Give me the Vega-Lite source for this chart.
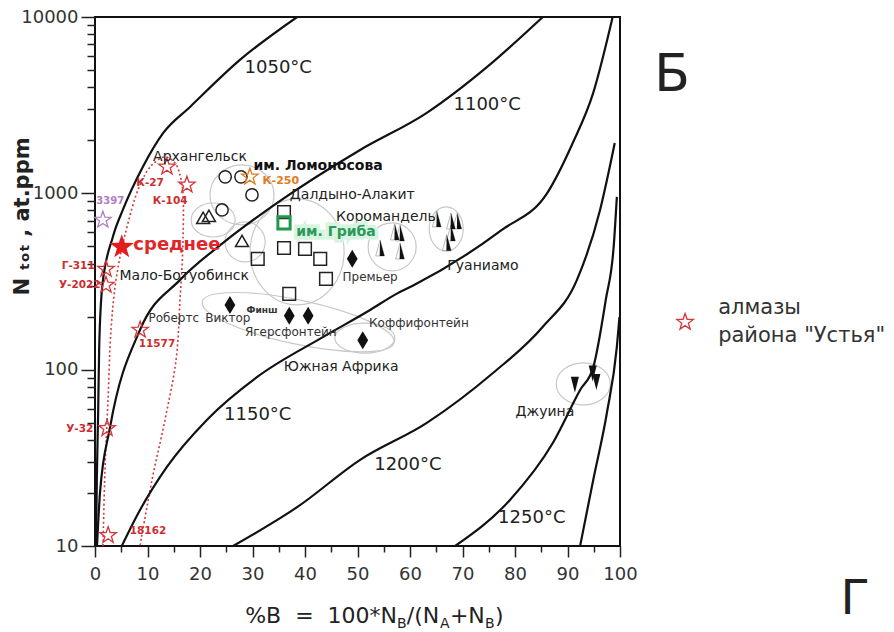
{
"$schema":"https://vega.github.io/schema/vega-lite/v6.json",
"width":525,"height":529,
"autosize":{"type":"none"},
"padding":{"left":95,"top":17,"right":274,"bottom":86},
"background":"white",
"config":{"view":{"stroke":"#111","strokeWidth":2},"text":{"font":"DejaVu Sans"}},
"encoding":{
 "x":{"field":"x","type":"quantitative","scale":{"domain":[0,100],"nice":false,"zero":false},"axis":null},
 "y":{"field":"y","type":"quantitative","scale":{"type":"log","domain":[10,10000],"nice":false},"axis":null}
},
"layer":[
 {"data":{"values":[
   {"e":"E1","x":28.0,"y":979},{"e":"E2","x":22.5,"y":706},{"e":"E3","x":38.5,"y":466},
   {"e":"E4","x":56.6,"y":497},{"e":"E5","x":66.9,"y":628},{"e":"E6","x":38.7,"y":186},
   {"e":"E7","x":51.4,"y":151},{"e":"E8","x":93.0,"y":83},{"e":"E9","x":28.6,"y":530}]},
  "mark":{"type":"point","filled":false,"size":4,"color":"#c8c8c8","strokeWidth":1.2,"opacity":1},
  "encoding":{
   "shape":{"field":"e","type":"nominal","legend":null,"scale":{"domain":["E1","E2","E3","E4","E5","E6","E7","E8","E9"],
     "range":["M-32,0A32,30,0,1,1,32,0A32,30,0,1,1,-32,0Z",
              "M-22,0A22,17,0,1,1,22,0A22,17,0,1,1,-22,0Z",
              "M-47,0A47,53,0,1,1,47,0A47,53,0,1,1,-47,0Z",
              "M-24,0A24,24,0,1,1,24,0A24,24,0,1,1,-24,0Z",
              "M-17,0A17,22,0,1,1,17,0A17,22,0,1,1,-17,0Z",
              "M-95.9,-20.4A98,22,12,1,1,95.9,20.4A98,22,12,1,1,-95.9,-20.4Z",
              "M-30,0A30,15,0,1,1,30,0A30,15,0,1,1,-30,0Z",
              "M-27,0A27,21,0,1,1,27,0A27,21,0,1,1,-27,0Z",
              "M-20,0A20,20,0,1,1,20,0A20,20,0,1,1,-20,0Z"]}}
  }},
 {"data":{"values":[
   {"i":0,"x":1.52,"y":10},{"i":1,"x":1.9,"y":27},{"i":2,"x":2.48,"y":67.3},{"i":3,"x":3.05,"y":168},
   {"i":4,"x":4.0,"y":323},{"i":5,"x":5.71,"y":581},{"i":6,"x":8.57,"y":1117},{"i":7,"x":10.86,"y":1449},
   {"i":8,"x":13.33,"y":1608},{"i":9,"x":15.24,"y":1486},{"i":10,"x":16.57,"y":1117},{"i":11,"x":16.76,"y":545},
   {"i":12,"x":16.19,"y":248},{"i":13,"x":15.43,"y":113},{"i":14,"x":13.33,"y":51.9},{"i":15,"x":10.86,"y":23.7},
   {"i":16,"x":8.57,"y":10}]},
  "mark":{"type":"line","color":"#d23a3a","strokeWidth":1.6,"strokeDash":[2,2.5],"interpolate":"catmull-rom","clip":true},
  "encoding":{"order":{"field":"i","type":"quantitative"}}},
 {"data":{"values":[
   {"c":"1050","i":0,"x":0.2,"y":10},{"c":"1050","i":1,"x":0.35,"y":24},{"c":"1050","i":2,"x":0.6,"y":57},{"c":"1050","i":3,"x":0.8,"y":135},
   {"c":"1050","i":4,"x":1.4,"y":300},{"c":"1050","i":5,"x":3.4,"y":566},{"c":"1050","i":6,"x":5.3,"y":805},{"c":"1050","i":7,"x":9.1,"y":1410},
   {"c":"1050","i":8,"x":13.0,"y":2200},{"c":"1050","i":9,"x":18.1,"y":3090},{"c":"1050","i":10,"x":27.6,"y":5710},{"c":"1050","i":11,"x":38.5,"y":10000},
   {"c":"1100","i":0,"x":0.38,"y":10},{"c":"1100","i":1,"x":0.95,"y":20},{"c":"1100","i":2,"x":2.86,"y":47},{"c":"1100","i":3,"x":8.57,"y":168},
   {"c":"1100","i":4,"x":16.2,"y":323},{"c":"1100","i":5,"x":24.4,"y":524},{"c":"1100","i":6,"x":34.7,"y":883},{"c":"1100","i":7,"x":50.5,"y":1762},
   {"c":"1100","i":8,"x":63.2,"y":2860},{"c":"1100","i":9,"x":74.7,"y":5210},{"c":"1100","i":10,"x":85.3,"y":10000},
   {"c":"1150","i":0,"x":5.1,"y":10},{"c":"1150","i":1,"x":8.57,"y":16},{"c":"1150","i":2,"x":13.7,"y":28.1},{"c":"1150","i":3,"x":21.3,"y":51.9},
   {"c":"1150","i":4,"x":30.9,"y":91},{"c":"1150","i":5,"x":43.4,"y":153},{"c":"1150","i":6,"x":52.4,"y":218},{"c":"1150","i":7,"x":57.5,"y":270},
   {"c":"1150","i":8,"x":60.6,"y":300},{"c":"1150","i":9,"x":77.5,"y":620},{"c":"1150","i":10,"x":86.1,"y":1000},{"c":"1150","i":11,"x":91.0,"y":1930},
   {"c":"1150","i":12,"x":94.9,"y":3715},{"c":"1150","i":13,"x":98.6,"y":10000},
   {"c":"1200","i":0,"x":26.3,"y":10},{"c":"1200","i":1,"x":38.5,"y":16.6},{"c":"1200","i":2,"x":50.5,"y":30.8},{"c":"1200","i":3,"x":63.2,"y":49.9},
   {"c":"1200","i":4,"x":75.8,"y":95.7},{"c":"1200","i":5,"x":85.3,"y":175},{"c":"1200","i":6,"x":91.8,"y":323},{"c":"1200","i":7,"x":96.2,"y":805},
   {"c":"1200","i":8,"x":99.0,"y":1930},
   {"c":"1250","i":0,"x":68.6,"y":10},{"c":"1250","i":1,"x":79.0,"y":18.2},{"c":"1250","i":2,"x":87.2,"y":38.4},{"c":"1250","i":3,"x":92.4,"y":76.7},
   {"c":"1250","i":4,"x":94.9,"y":103},{"c":"1250","i":5,"x":97.3,"y":250},{"c":"1250","i":6,"x":98.8,"y":500},{"c":"1250","i":7,"x":99.4,"y":955},
   {"c":"1300","i":0,"x":92.4,"y":10},{"c":"1300","i":1,"x":94.9,"y":23.7},{"c":"1300","i":2,"x":97.5,"y":56.8},{"c":"1300","i":3,"x":99.4,"y":134.6},
   {"c":"1300","i":4,"x":99.9,"y":199}]},
  "mark":{"type":"line","color":"#111","strokeWidth":2.2,"interpolate":"monotone","clip":true},
  "encoding":{
   "x":{"field":"x","type":"quantitative","scale":{"domain":[0,100],"nice":false,"zero":false},
     "axis":{"orient":"bottom","values":[0,5,10,15,20,25,30,35,40,45,50,55,60,65,70,75,80,85,90,95,100],"title":null,"domain":false,"grid":false,"tickColor":"#222","tickWidth":1.5,"tickSize":{"condition":{"test":"datum.value % 10 === 0","value":11},"value":6},"labelExpr":"datum.value % 10 === 0 ? datum.label : ''","labelFont":"DejaVu Sans","labelFontSize":18,"labelColor":"#333","labelPadding":8,"labelFlush":false,"labelOverlap":false,"labelBound":false}},
   "y":{"field":"y","type":"quantitative","scale":{"type":"log","domain":[10,10000],"nice":false},
     "axis":{"orient":"left","values":[10,20,30,40,50,60,70,80,90,100,200,300,400,500,600,700,800,900,1000,2000,3000,4000,5000,6000,7000,8000,9000,10000],"title":"N ₜₒₜ ,  at.ppm","titleFont":"DejaVu Sans","titleFontWeight":"bold","titleFontSize":21,"titleColor":"#222","titleX":-73,"titleY":199,"titleAngle":-90,"titleAlign":"center","titleBaseline":"middle","domain":false,"grid":false,"tickColor":"#222","tickWidth":1.5,"tickSize":{"condition":{"test":"indexof([10,100,1000,10000], datum.value) >= 0","value":14},"value":8},"labelExpr":"indexof([10,100,1000,10000], datum.value) >= 0 ? format(datum.value, 'd') : ''","labelFont":"DejaVu Sans","labelFontSize":18,"labelColor":"#333","labelPadding":3,"labelOverlap":false,"labelFlush":false,"labelBound":false}},
   "detail":{"field":"c","type":"nominal"},
   "order":{"field":"i","type":"quantitative"}}},
 {"data":{"values":[{"x":24.8,"y":1240},{"x":27.8,"y":1240},{"x":29.9,"y":980},{"x":24.2,"y":805}]},
  "mark":{"type":"point","shape":"circle","size":150,"filled":false,"color":"#222","strokeWidth":1.5,"opacity":1}},
 {"data":{"values":[{"x":20.6,"y":726},{"x":21.7,"y":745},{"x":28.0,"y":537}]},
  "mark":{"type":"point","shape":"triangle-up","size":170,"filled":false,"color":"#222","strokeWidth":1.5,"opacity":1}},
 {"data":{"values":[{"x":36.0,"y":783},{"x":36.0,"y":490},{"x":40.0,"y":484},{"x":42.9,"y":425},{"x":31.0,"y":425},{"x":44.0,"y":327},{"x":37.0,"y":269}]},
  "mark":{"type":"point","shape":"square","size":160,"filled":false,"color":"#222","strokeWidth":1.5,"opacity":1}},
 {"data":{"values":[{"x":36.0,"y":679}]},
  "mark":{"type":"point","shape":"square","size":150,"filled":false,"color":"#1f9a4c","strokeWidth":3,"opacity":1}},
 {"data":{"values":[{"x":49.0,"y":425},{"x":25.7,"y":233},{"x":37.0,"y":202},{"x":40.6,"y":202},{"x":51.0,"y":147}]},
  "mark":{"type":"point","shape":"M0,-1L0.6,0L0,1L-0.6,0Z","size":324,"filled":true,"color":"#111","opacity":1}},
 {"data":{"values":[{"x":57.1,"y":604},{"x":58.1,"y":596},{"x":54.3,"y":490},{"x":58.1,"y":471},{"x":65.1,"y":716},{"x":67.8,"y":697},{"x":69.0,"y":697},{"x":67.8,"y":596},{"x":67.0,"y":524}]},
  "mark":{"type":"point","shape":"M0,-1L0.55,1L-0.55,1Z","size":256,"filled":false,"color":"#aaa","strokeWidth":0.8,"opacity":1}},
 {"data":{"values":[{"x":57.1,"y":604},{"x":58.1,"y":596},{"x":54.3,"y":490},{"x":58.1,"y":471},{"x":65.1,"y":716},{"x":67.8,"y":697},{"x":69.0,"y":697},{"x":67.8,"y":596},{"x":67.0,"y":524}]},
  "mark":{"type":"point","shape":"M0,-1L0.55,1L-0.05,1Z","size":256,"filled":true,"color":"#111","opacity":1}},
 {"data":{"values":[{"x":91.4,"y":82},{"x":94.8,"y":95},{"x":95.5,"y":85}]},
  "mark":{"type":"point","shape":"M-0.5,-1L0.5,-1L0,1Z","size":256,"filled":true,"color":"#111","opacity":1}},
 {"data":{"values":[{"x":13.7,"y":1413},{"x":17.5,"y":1117},{"x":2.1,"y":372},{"x":2.1,"y":302},{"x":8.6,"y":168},{"x":2.3,"y":46.5},{"x":2.5,"y":11.5},{"x":112.4,"y":186}]},
  "mark":{"type":"point","shape":"M0,-1L0.235,-0.324L0.951,-0.309L0.38,0.124L0.588,0.809L0,0.4L-0.588,0.809L-0.38,0.124L-0.951,-0.309L-0.235,-0.324Z","size":300,"filled":false,"color":"#d2373a","strokeWidth":1.3,"opacity":1}},
 {"data":{"values":[{"x":1.5,"y":706}]},
  "mark":{"type":"point","shape":"M0,-1L0.235,-0.324L0.951,-0.309L0.38,0.124L0.588,0.809L0,0.4L-0.588,0.809L-0.38,0.124L-0.951,-0.309L-0.235,-0.324Z","size":300,"filled":false,"color":"#b07cc4","strokeWidth":1.3,"opacity":1}},
 {"data":{"values":[{"x":29.5,"y":1240}]},
  "mark":{"type":"point","shape":"M0,-1L0.235,-0.324L0.951,-0.309L0.38,0.124L0.588,0.809L0,0.4L-0.588,0.809L-0.38,0.124L-0.951,-0.309L-0.235,-0.324Z","size":300,"filled":false,"color":"#e07b1f","strokeWidth":1.3,"opacity":1}},
 {"data":{"values":[{"x":5.1,"y":497}]},
  "mark":{"type":"point","shape":"M0,-1L0.235,-0.324L0.951,-0.309L0.38,0.124L0.588,0.809L0,0.4L-0.588,0.809L-0.38,0.124L-0.951,-0.309L-0.235,-0.324Z","size":650,"filled":true,"color":"#e31d1d","opacity":1}},
 {"data":{"values":[{"t":"1050°C","x":34.9,"y":5145},{"t":"1100°C","x":74.7,"y":3170},{"t":"1150°C","x":31.0,"y":55.3},{"t":"1200°C","x":59.6,"y":28.8},{"t":"1250°C","x":83.2,"y":14.4}]},
  "mark":{"type":"text","fontSize":18,"color":"#222","align":"center","baseline":"middle"},"encoding":{"text":{"field":"t"}}},
 {"data":{"values":[{"t":"Архангельск","x":20.0,"y":1608},{"t":"Далдыно-Алакит","x":49.0,"y":979},{"t":"Коромандель","x":55.4,"y":735},{"t":"Гуаниамо","x":73.9,"y":387},{"t":"Мало-Ботуобинск","x":17.0,"y":340},{"t":"Южная Африка","x":46.9,"y":104},{"t":"Джуина","x":85.7,"y":57.5}]},
  "mark":{"type":"text","fontSize":14,"color":"#222","align":"center","baseline":"middle"},"encoding":{"text":{"field":"t"}}},
 {"data":{"values":[{"t":"Робертс","x":15.0,"y":196},{"t":"Виктор","x":25.3,"y":196},{"t":"Ягерсфонтейн","x":37.3,"y":164},{"t":"Коффифонтейн","x":61.7,"y":184},{"t":"Премьер","x":52.4,"y":336}]},
  "mark":{"type":"text","fontSize":12,"color":"#333","align":"center","baseline":"middle"},"encoding":{"text":{"field":"t"}}},
 {"data":{"values":[{"t":"Финш","x":31.8,"y":218}]},
  "mark":{"type":"text","fontSize":9,"fontWeight":"bold","color":"#333","align":"center","baseline":"middle"},"encoding":{"text":{"field":"t"}}},
 {"data":{"values":[{"t":"им. Ломоносова","x":42.5,"y":1430}]},
  "mark":{"type":"text","fontSize":14,"fontWeight":"bold","color":"#111","align":"center","baseline":"middle"},"encoding":{"text":{"field":"t"}}},
 {"data":{"values":[{"t":"им. Гриба","x":45.9,"y":604}]},
  "mark":{"type":"text","fontSize":14,"fontWeight":"bold","color":"#d8f3df","stroke":"#d8f3df","strokeWidth":7,"align":"center","baseline":"middle"},"encoding":{"text":{"field":"t"}}},
 {"data":{"values":[{"t":"им. Гриба","x":45.9,"y":604}]},
  "mark":{"type":"text","fontSize":14,"fontWeight":"bold","color":"#2a9a5a","align":"center","baseline":"middle"},"encoding":{"text":{"field":"t"}}},
 {"data":{"values":[{"t":"среднее","x":15.6,"y":510}]},
  "mark":{"type":"text","fontSize":18,"fontWeight":"bold","color":"#e0262a","align":"center","baseline":"middle"},"encoding":{"text":{"field":"t"}}},
 {"data":{"values":[{"t":"К-27","x":10.5,"y":1146},{"t":"К-104","x":14.3,"y":905},{"t":"Г-311","x":-3.2,"y":387},{"t":"У-2022","x":-2.9,"y":302},{"t":"У-32","x":-2.9,"y":46.1},{"t":"11577","x":11.8,"y":140},{"t":"18162","x":10.1,"y":12.2}]},
  "mark":{"type":"text","fontSize":10.5,"fontWeight":"bold","color":"#cc2e30","align":"center","baseline":"middle"},"encoding":{"text":{"field":"t"}}},
 {"data":{"values":[{"t":"К-250","x":35.4,"y":1176}]},
  "mark":{"type":"text","fontSize":11,"fontWeight":"bold","color":"#e07b1f","align":"center","baseline":"middle"},"encoding":{"text":{"field":"t"}}},
 {"data":{"values":[{"t":"3397","x":2.9,"y":905}]},
  "mark":{"type":"text","fontSize":10,"fontWeight":"bold","color":"#b07cc4","align":"center","baseline":"middle"},"encoding":{"text":{"field":"t"}}},
 {"data":{"values":[{"t":"Б","x":109.9,"y":4695}]},
  "mark":{"type":"text","fontSize":52,"color":"#222","align":"center","baseline":"middle"},"encoding":{"text":{"field":"t"}}},
 {"data":{"values":[{"t":"Г","x":144.8,"y":4.94}]},
  "mark":{"type":"text","fontSize":48,"color":"#222","align":"center","baseline":"middle"},"encoding":{"text":{"field":"t"}}},
 {"data":{"values":[{"t":"алмазы","x":118.7,"y":224},{"t":"района \"Устья\"","x":118.7,"y":155}]},
  "mark":{"type":"text","fontSize":21,"color":"#333","align":"left","baseline":"middle"},"encoding":{"text":{"field":"t"}}},
 {"data":{"values":[{"t":"%B\u00a0\u00a0=\u00a0\u00a0100*N","x":28.6,"y":3.66},{"t":"/(N","x":59.4,"y":3.66},{"t":"+N","x":67.6,"y":3.66},{"t":")","x":76.2,"y":3.66}]},
  "mark":{"type":"text","fontSize":22,"color":"#222","align":"left","baseline":"alphabetic"},"encoding":{"text":{"field":"t"}}},
 {"data":{"values":[{"t":"B","x":57.5,"y":3.43},{"t":"A","x":65.7,"y":3.43},{"t":"B","x":74.3,"y":3.43}]},
  "mark":{"type":"text","fontSize":14,"color":"#222","align":"left","baseline":"alphabetic"},"encoding":{"text":{"field":"t"}}}
],
"resolve":{"scale":{"x":"independent","y":"independent"},"axis":{"x":"independent","y":"independent"}}
}
